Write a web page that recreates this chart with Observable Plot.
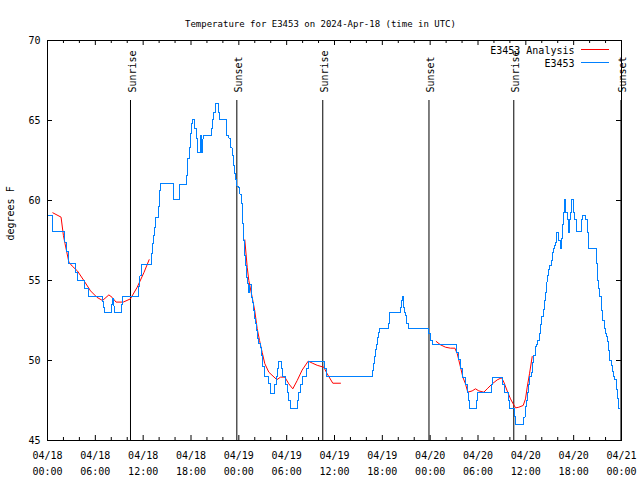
<!DOCTYPE html>
<html><head><meta charset="utf-8">
<script src="https://cdn.jsdelivr.net/npm/d3@7"></script>
<script src="https://cdn.jsdelivr.net/npm/@observablehq/plot@0.6"></script>
<style>body{margin:0;background:#fff} svg{display:block}</style>
</head><body><div id="chart"></div>
<script>
// ---- data (hours since 2024-04-18 00:00 UTC) ----
const titleText = "Temperature for E3453 on 2024-Apr-18 (time in UTC)";
const yLabel = "degrees F";
const seriesNames = ["E3453 Analysis", "E3453"];
const seriesColors = ["#ff0000", "#0080ff"];

const obsHours = [0.1,0.59,2.17,2.4,2.65,3.51,3.72,4.68,5.1,6.86,7.0,7.19,7.99,8.11,8.32,8.4,9.24,9.37,11.45,11.6,11.75,13.0,13.12,13.25,13.37,13.5,13.9,14.05,14.17,15.77,16.55,17.44,17.6,17.77,17.94,18.1,18.23,18.5,18.65,18.8,19.2,19.35,19.5,19.6,20.55,20.66,20.85,21.05,21.5,21.62,22.45,22.75,22.95,23.15,23.3,23.45,23.6,23.75,24.0,24.12,24.3,24.42,24.55,24.67,24.84,24.96,25.09,25.21,25.4,25.55,25.67,25.8,25.97,26.09,26.22,26.38,26.51,26.68,26.84,27.0,27.22,27.76,27.97,28.51,28.72,28.89,29.02,29.31,29.44,29.85,30.06,30.27,30.48,31.36,31.53,31.74,31.94,32.49,32.7,34.79,35.0,40.73,40.85,40.98,41.1,41.23,41.39,41.48,41.6,42.81,42.94,44.28,44.4,44.49,44.61,44.74,44.9,45.03,45.24,47.83,48.04,48.25,51.3,51.52,51.81,52.02,52.43,52.65,52.85,52.97,53.78,53.94,55.7,55.78,57.12,57.29,57.79,57.99,58.54,58.71,59.75,59.9,60.05,60.2,60.35,60.5,60.67,60.84,61.0,61.17,61.34,61.5,61.68,61.84,62.0,62.17,62.3,62.43,62.55,62.68,62.8,62.93,63.18,63.31,63.43,63.56,63.72,63.88,64.14,64.35,64.45,64.56,64.68,64.85,65.02,65.22,65.35,65.48,65.6,65.77,65.94,66.1,66.39,67.02,67.15,67.52,67.7,67.82,68.82,68.95,69.1,69.24,69.5,69.62,69.83,70.0,70.17,70.29,70.41,70.54,70.7,70.87,71.0,71.17,71.33,71.46,71.6,71.75];
const obsTemps = [59.06,58.06,57.4,56.8,56.04,55.5,55.0,54.5,54.0,53.7,53.3,53.0,53.5,53.9,53.4,53.0,53.5,54.0,54.6,55.3,56.0,56.7,57.3,57.8,58.3,58.96,59.6,60.6,61.04,60.04,61.0,61.56,62.6,63.33,64.17,64.8,65.04,64.5,63.85,63.02,64.06,63.02,63.85,64.06,64.5,65.04,65.5,66.04,65.5,65.04,64.06,63.9,63.3,62.8,62.2,61.7,61.3,60.9,60.8,60.4,59.8,58.54,57.5,56.56,55.94,55.2,54.8,54.27,54.73,53.96,53.65,53.1,52.6,52.3,51.9,51.35,51.04,50.83,50.3,49.6,49.0,48.54,47.96,48.5,49.0,49.5,49.96,49.5,49.0,48.5,48.0,47.5,46.98,47.5,48.0,48.5,49.0,49.5,49.96,49.5,49.0,49.375,49.8,50.25,50.7,50.98,51.46,51.77,51.98,52.3,52.98,53.3,53.75,54.0,53.3,52.98,52.8,52.3,51.98,51.67,51.25,50.98,50.52,50.04,49.48,48.96,48.5,48.0,47.5,47.0,47.5,48.0,48.5,48.96,48.5,48.0,47.5,47.0,46.5,45.98,46.46,47.1,47.5,48.02,48.5,49.0,49.27,49.9,50.3,50.9,51.0,51.25,51.67,52.25,52.75,53.2,53.75,54.27,54.9,55.3,55.7,55.94,56.25,56.77,56.98,57.19,57.4,58.02,57.5,57.0,57.6,58.5,59.27,60.04,59.27,58.79,58.0,58.79,59.27,60.04,59.27,58.79,58.06,58.79,59.06,58.79,58.0,57.0,56.04,55.0,54.48,54.0,53.125,52.5,52.0,51.7,51.5,51.2,50.6,50.0,49.7,49.3,49.0,48.8,48.2,47.6,47.0,47.0];

const anaHours1 = [0.67,1.7,2.0,2.2,2.68,3.1,3.75,4.56,5.4,6.2,6.9,7.7,8.1,8.6,9.5,10.4,11.25,12.1,12.75];
const anaTemps1 = [59.23,58.96,57.8,57.3,56.15,55.9,55.6,55.0,54.35,53.95,53.75,54.1,53.95,53.65,53.65,53.85,54.58,55.5,56.3];
const anaHours2 = [24.75,25.05,25.25,25.67,26.0,26.3,26.6,26.93,27.26,27.76,28.77,29.23,29.77,30.27,30.77,31.32,31.94,32.7,33.2,33.83,34.66,35.08,35.79,36.75];
const anaTemps2 = [57.54,55.83,55.0,53.96,53.1,52.0,51.25,50.5,49.8,49.27,48.8,48.96,48.96,48.54,48.23,48.75,49.4,49.96,49.84,49.7,49.58,49.17,48.58,48.58];
const anaHours3 = [48.76,49.3,49.93,50.55,51.1,51.4,51.81,52.1,52.43,52.72,53.27,53.69,54.1,54.73,55.15,55.78,56.41,56.95,57.24,57.66,58.08,58.37,58.71,59.12,59.67,59.96,60.17,60.46,60.8];
const anaTemps3 = [51.19,50.98,50.83,50.77,50.77,50.42,49.58,48.96,48.54,48.02,48.1,48.23,48.1,48.02,48.23,48.54,48.79,48.92,48.65,48.1,47.6,47.33,47.04,47.08,47.19,47.6,48.33,49.17,50.25];

const eventHours = [10.41, 23.75, 34.53, 47.85, 58.49, 71.93];
const eventLabels = ["Sunrise", "Sunset", "Sunrise", "Sunset", "Sunrise", "Sunset"];

const xTickHours = [0,6,12,18,24,30,36,42,48,54,60,66,72];
const xTickLabels = ["04/18\n00:00","04/18\n06:00","04/18\n12:00","04/18\n18:00","04/19\n00:00","04/19\n06:00","04/19\n12:00","04/19\n18:00","04/20\n00:00","04/20\n06:00","04/20\n12:00","04/20\n18:00","04/21\n00:00"];
const xMinorHours = d3.range(0, 73, 2).filter(h => h % 6 !== 0);
const yTicks = [45, 50, 55, 60, 65, 70];

// ---- build tables ----
const obs = obsHours.map((h, i) => ({h, t: obsTemps[i]}));
const ana = [
  ...anaHours1.map((h, i) => ({h, t: anaTemps1[i], seg: 1})),
  ...anaHours2.map((h, i) => ({h, t: anaTemps2[i], seg: 2})),
  ...anaHours3.map((h, i) => ({h, t: anaTemps3[i], seg: 3}))
];
const events = eventHours.map((h, i) => ({h, label: eventLabels[i]}));

const W = 640, H = 480, ML = 47, MR = 19, MT = 40, MB = 40;
const FW = W - ML - MR, FH = H - MT - MB;
const FONT = "'DejaVu Sans Mono', 'Liberation Mono', monospace";
const MAJ = 5, MIN = 3;

const chart = Plot.plot({
  width: W, height: H,
  marginLeft: ML, marginRight: MR, marginTop: MT, marginBottom: MB,
  style: {fontFamily: FONT, fontSize: "10px", background: "white", color: "black", overflow: "visible"},
  x: {domain: [0, 72]},
  y: {domain: [45, 70]},
  marks: [
    // event lines and labels
    Plot.ruleX(events, {x: "h", insetTop: 60, stroke: "black", strokeWidth: 1}),
    Plot.text(events, {x: "h", text: "label", frameAnchor: "top", rotate: -90, textAnchor: "start", lineAnchor: "middle", dy: 52, dx: 2, fill: "black"}),
    // series
    Plot.line(ana, {x: "h", y: "t", z: "seg", stroke: seriesColors[0], strokeWidth: 1}),
    Plot.line(obs, {x: "h", y: "t", stroke: seriesColors[1], strokeWidth: 1, curve: "step-after", shapeRendering: "crispEdges"}),
    // ticks (inward)
    Plot.ruleX(xTickHours, {x: d => d, insetTop: FH - MAJ, stroke: "black"}),
    Plot.ruleX(xTickHours, {x: d => d, insetBottom: FH - MAJ, stroke: "black"}),
    Plot.ruleX(xMinorHours, {x: d => d, insetTop: FH - MIN, stroke: "black"}),
    Plot.ruleX(xMinorHours, {x: d => d, insetBottom: FH - MIN, stroke: "black"}),
    Plot.ruleY(yTicks, {y: d => d, insetRight: FW - MAJ, stroke: "black"}),
    Plot.ruleY(yTicks, {y: d => d, insetLeft: FW - MAJ, stroke: "black"}),
    // axes labels
    Plot.axisX({ticks: xTickHours, tickFormat: (d) => xTickLabels[xTickHours.indexOf(d)], tickSize: 0, tickPadding: 7, lineHeight: 1.6, label: null, fontSize: 10}),
    Plot.axisY({ticks: yTicks, tickSize: 0, tickPadding: 7, label: null, fontSize: 10}),
    Plot.text([yLabel], {text: d => d, frameAnchor: "left", rotate: -90, dx: -37, fill: "black"}),
    Plot.text([titleText], {text: d => d, frameAnchor: "top", dy: -20, dx: -14, fill: "black", fontSize: 9}),
    // legend text
    Plot.text([seriesNames[0]], {text: d => d, frameAnchor: "top-right", textAnchor: "end", dx: -47, dy: 6, fill: "black"}),
    Plot.text([seriesNames[1]], {text: d => d, frameAnchor: "top-right", textAnchor: "end", dx: -47, dy: 19, fill: "black"}),
    Plot.frame({stroke: "black", strokeWidth: 1})
  ]
});

// legend line samples
const svg = d3.select(chart);
const lg = svg.append("g").attr("shape-rendering", "crispEdges");
seriesColors.forEach((c, i) => {
  lg.append("line")
    .attr("x1", W - MR - 40).attr("x2", W - MR - 12)
    .attr("y1", MT + 9.5 + i * 13).attr("y2", MT + 9.5 + i * 13)
    .attr("stroke", c).attr("stroke-width", 1);
});
document.getElementById("chart").appendChild(chart);
</script></body></html>
